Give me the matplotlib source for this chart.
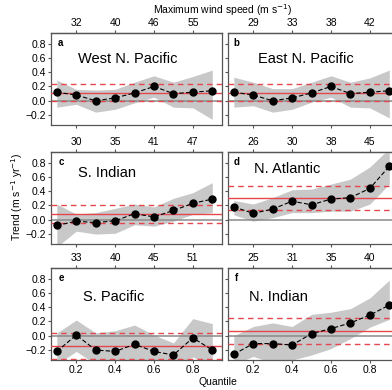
import numpy as np
import matplotlib.pyplot as plt

plt.rcParams['font.family'] = ['Liberation Sans', 'DejaVu Sans']

# quantiles on the bottom axis
quantiles = [0.1, 0.2, 0.3, 0.4, 0.5, 0.6, 0.7, 0.8, 0.9]
tick_q = [0.2, 0.4, 0.6, 0.8]

# panel letters, basin names, wind speeds at the top ticks
letters = ['a', 'b', 'c', 'd', 'e', 'f']
basins = ['West N. Pacific', 'East N. Pacific', 'S. Indian', 'N. Atlantic',
          'S. Pacific', 'N. Indian']
wind_ticks = [['32', '40', '46', '55'],
              ['29', '33', '38', '42'],
              ['30', '35', '41', '47'],
              ['26', '30', '38', '45'],
              ['33', '40', '45', '51'],
              ['25', '31', '35', '40']]

# quantile trends
trend_a = [0.12, 0.08, 0.00, 0.04, 0.11, 0.20, 0.10, 0.12, 0.14]
trend_b = [0.12, 0.08, 0.00, 0.04, 0.11, 0.20, 0.10, 0.12, 0.14]
trend_c = [-0.08, -0.02, -0.04, -0.015, 0.085, 0.04, 0.13, 0.23, 0.29]
trend_d = [0.18, 0.09, 0.15, 0.26, 0.21, 0.29, 0.31, 0.44, 0.75]
trend_e = [-0.22, 0.01, -0.20, -0.22, -0.12, -0.22, -0.27, -0.03, -0.20]
trend_f = [-0.26, -0.11, -0.11, -0.13, 0.03, 0.10, 0.18, 0.29, 0.43]

# confidence band (upper / lower)
upper_a = [0.29, 0.16, 0.15, 0.16, 0.26, 0.35, 0.26, 0.34, 0.43]
lower_a = [-0.09, -0.05, -0.16, -0.12, -0.03, 0.05, -0.09, -0.10, -0.26]
upper_b = [0.33, 0.26, 0.17, 0.17, 0.26, 0.35, 0.26, 0.32, 0.43]
lower_b = [-0.09, -0.07, -0.16, -0.12, -0.02, 0.05, -0.09, -0.10, -0.24]
upper_c = [0.22, 0.08, 0.10, 0.16, 0.22, 0.18, 0.30, 0.38, 0.52]
lower_c = [-0.38, -0.16, -0.20, -0.19, -0.07, -0.09, -0.02, 0.075, 0.10]
upper_d = [0.27, 0.22, 0.31, 0.42, 0.43, 0.50, 0.57, 0.74, 1.00]
lower_d = [0.07, -0.02, 0.03, 0.10, 0.10, 0.12, 0.12, 0.22, 0.50]
upper_e = [0.04, 0.22, 0.04, 0.07, 0.15, 0.01, -0.10, 0.24, 0.17]
lower_e = [-0.40, -0.22, -0.40, -0.40, -0.40, -0.40, -0.40, -0.30, -0.40]
upper_f = [0.00, 0.13, 0.18, 0.13, 0.30, 0.33, 0.38, 0.53, 0.78]
lower_f = [-0.40, -0.29, -0.38, -0.34, -0.27, -0.18, -0.04, 0.12, 0.23]

# mean trend and its bounds (solid / dashed red)
mean_trend = [0.115, 0.115, 0.075, 0.30, -0.145, 0.06]
mean_hi = [0.235, 0.235, 0.20, 0.48, 0.045, 0.25]
mean_lo = [-0.005, -0.005, -0.04, 0.14, -0.32, -0.12]

trends = [trend_a, trend_b, trend_c, trend_d, trend_e, trend_f]
uppers = [upper_a, upper_b, upper_c, upper_d, upper_e, upper_f]
lowers = [lower_a, lower_b, lower_c, lower_d, lower_e, lower_f]

name_pos = [(0.16, 0.72), (0.177, 0.72), (0.16, 0.77), (0.152, 0.82),
            (0.19, 0.69), (0.123, 0.69)]

W, H = 392, 390
fig = plt.figure(figsize=(W / 100, H / 100), dpi=100)

lefts = [51, 228]
tops = [33, 152, 268]
aw, ah = 171, 92
red = '#e4484e'
spine_col = '#555555'

for k in range(6):
    row, col = k // 2, k % 2
    ax = fig.add_axes([lefts[col] / W, 1 - (tops[row] + ah) / H, aw / W, ah / H])
    ax.fill_between(quantiles, lowers[k], uppers[k], color='#c8c8c8', lw=0, zorder=1)
    ax.axhline(0, color='#8a8a8a', lw=1.1, zorder=2)
    ax.axhline(mean_trend[k], color=red, lw=1.0, zorder=3)
    ax.axhline(mean_hi[k], color=red, lw=1.0, ls=(0, (4, 3)), zorder=3)
    ax.axhline(mean_lo[k], color=red, lw=1.0, ls=(0, (4, 3)), zorder=3)
    ax.plot(quantiles, trends[k], color='black', lw=0.8, ls=(0, (4, 2)),
            marker='o', ms=5, zorder=4)
    ax.set_xlim(0.07, 0.95)
    ax.set_ylim(-0.34, 0.95)
    ax.set_yticks([-0.2, 0.0, 0.2, 0.4, 0.6, 0.8])
    ax.set_xticks(tick_q)
    ax.tick_params(direction='out', length=2.5, width=0.8, color=spine_col,
                   labelsize=7.5, pad=1.2)
    if col == 0:
        ax.set_yticklabels(['\u22120.2', '0.0', '0.2', '0.4', '0.6', '0.8'])
    else:
        ax.set_yticklabels([])
    if row == 2:
        ax.set_xticklabels(['0.2', '0.4', '0.6', '0.8'])
    else:
        ax.set_xticklabels([])
    for s in ax.spines.values():
        s.set_color(spine_col)
        s.set_linewidth(0.9)
    sec = ax.secondary_xaxis('top')
    sec.set_xticks(tick_q, labels=wind_ticks[k])
    sec.tick_params(direction='out', length=2.5, width=0.8, color=spine_col,
                    labelsize=7.5, pad=0.8)
    sec.spines['top'].set_color(spine_col)
    sec.spines['top'].set_linewidth(0.9)
    ax.text(0.05 if col else 0.058, 0.89, letters[k], transform=ax.transAxes,
            fontsize=7, fontweight='bold', ha='center', va='center')
    ax.text(name_pos[k][0], name_pos[k][1], basins[k], transform=ax.transAxes,
            fontsize=10.5, ha='left', va='center')

fig.text(223 / W, 1 - 10 / H, 'Maximum wind speed (m s$^{-1}$)', fontsize=7.5,
         ha='center', va='center')
fig.text(17 / W, 1 - 197 / H, 'Trend (m s$^{-1}$ yr$^{-1}$)', fontsize=7.5,
         ha='center', va='center', rotation=90)
fig.text(218 / W, 1 - 382 / H, 'Quantile', fontsize=7.5, ha='center', va='center')

fig.savefig('out.png', dpi=100)
